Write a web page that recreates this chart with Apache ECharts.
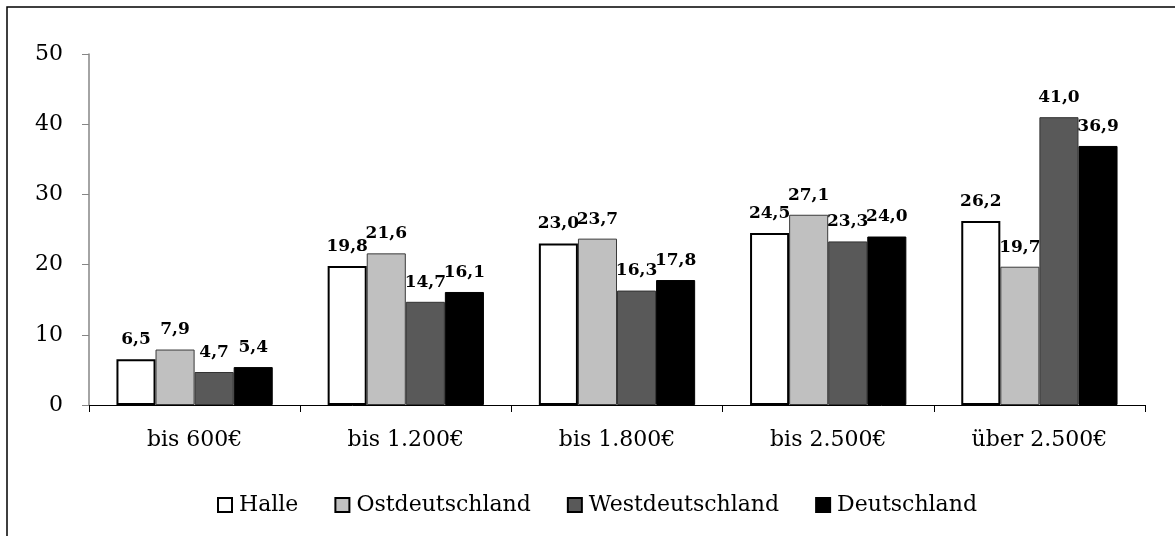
<!DOCTYPE html>
<html>
<head>
<meta charset="utf-8">
<script src="https://cdn.jsdelivr.net/npm/echarts@6/dist/echarts.min.js"></script>
<style>
html, body { margin: 0; padding: 0; background: #fff; }
#main { width: 1175px; height: 536px; }
</style>
</head>
<body>
<div id="main"></div>
<script>
var categories = ['bis 600€', 'bis 1.200€', 'bis 1.800€', 'bis 2.500€', 'über 2.500€'];
var seriesNames = ['Halle', 'Ostdeutschland', 'Westdeutschland', 'Deutschland'];
var halle = [6.5, 19.8, 23.0, 24.5, 26.2];
var ost = [7.9, 21.6, 23.7, 27.1, 19.7];
var west = [4.7, 14.7, 16.3, 23.3, 41.0];
var deutschland = [5.4, 16.1, 17.8, 24.0, 36.9];
var yTicks = [0, 10, 20, 30, 40, 50];

var fontFam = '"DejaVu Serif", serif';
var fills = ['#ffffff', '#c0c0c0', '#595959', '#000000'];
var borders = ['#000000', '#3a3a3a', '#333333', '#000000'];
var borderW = [2, 1, 1, 1];
var values = [halle, ost, west, deutschland];

var chart = echarts.init(document.getElementById('main'));

var series = [];
for (var i = 0; i < seriesNames.length; i++) {
	series.push({
		name: seriesNames[i],
		type: 'bar',
		data: values[i],
		barGap: '0%',
		barCategoryGap: '26%',
		itemStyle: {
			color: fills[i],
			borderColor: borders[i],
			borderWidth: borderW[i]
		},
		label: {
			show: true,
			position: 'top',
			distance: 11,
			fontFamily: fontFam,
			fontWeight: 'bold',
			fontSize: 17,
			color: '#000',
			formatter: function(p) {
				return p.value.toFixed(1).replace('.', ',');
			}
		}
	});
}

var option = {
	animation: false,
	backgroundColor: '#fff',
	graphic: [{
		type: 'rect',
		shape: { x: 7, y: 7, width: 1300, height: 700 },
		style: { fill: 'none', stroke: '#000', lineWidth: 1.5 },
		silent: true
	}],
	legend: {
		top: 487,
		left: 212,
		itemWidth: 14,
		itemHeight: 14,
		itemGap: 36,
		icon: 'rect',
		textStyle: { fontFamily: fontFam, fontSize: 22, lineHeight: 26, color: '#000', padding: [0, 0, 0, 2] },
		itemStyle: { borderColor: '#000', borderWidth: 2 },
		data: seriesNames
	},
	grid: { left: 89, right: 30, top: 54, bottom: 131 },
	xAxis: {
		type: 'category',
		data: categories,
		axisLine: { lineStyle: { color: '#000', width: 1 } },
		axisTick: { show: true, length: 7, lineStyle: { color: '#000' } },
		axisLabel: { margin: 24, fontFamily: fontFam, fontSize: 22, color: '#000' }
	},
	yAxis: {
		type: 'value',
		min: yTicks[0],
		max: yTicks[yTicks.length - 1],
		interval: 10,
		splitLine: { show: false },
		axisLine: { show: true, lineStyle: { color: '#868686', width: 1.5 } },
		axisTick: { show: true, inside: false, length: 7, lineStyle: { color: '#868686' } },
		axisLabel: { margin: 26, fontFamily: fontFam, fontSize: 22, color: '#000' }
	},
	series: series
};

chart.setOption(option, true);
window.onresize = function() {
	chart.resize();
};
</script>
</body>
</html>
